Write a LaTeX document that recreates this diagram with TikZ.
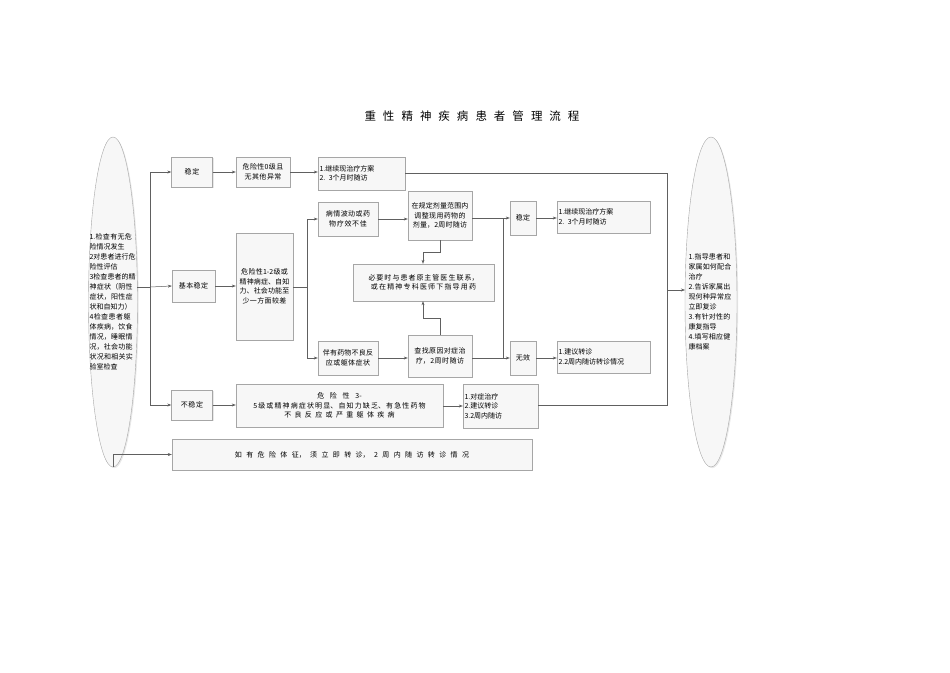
\documentclass[tikz,border=0pt]{standalone}
\usepackage{fontspec}
\setmainfont{Noto Sans CJK SC}
\XeTeXlinebreaklocale "zh"
\XeTeXlinebreakskip=0pt plus 1pt
\usetikzlibrary{shadows,arrows.meta}
\begin{document}
\begin{tikzpicture}[x=1pt,y=-1pt,
  bx/.style={draw=gray!70,fill=gray!6,drop shadow={shadow xshift=1.2pt,shadow yshift=-1.2pt,fill=gray!35},inner sep=1pt,font=\fontsize{7}{9.5}\selectfont,align=center},
  ln/.style={draw=gray!75!black,line width=0.5pt},
  ar/.style={ln,-{Stealth[length=4pt,width=3pt]}}]
\useasboundingbox (0,0) rectangle (950,672);
\node[font=\fontsize{11.5}{13}\selectfont] (title) at (472,116) {重\hspace{7pt}性\hspace{7pt}精\hspace{7pt}神\hspace{7pt}疾\hspace{7pt}病\hspace{7pt}患\hspace{7pt}者\hspace{7pt}管\hspace{7pt}理\hspace{7pt}流\hspace{7pt}程};
\newcommand{\bxat}[6]{\node[bx,minimum width=#4pt,minimum height=#5pt,text width=#4pt-3pt] (#1) at (#2,#3) {#6};}
% ellipses
\draw[draw=gray!70,fill=gray!6,drop shadow={shadow xshift=1.2pt,shadow yshift=-1.2pt,fill=gray!35}] (113,302) ellipse (24.5 and 165);
\node[font=\fontsize{7}{10}\selectfont,text width=47pt,align=left,inner sep=0pt] (L) at (113,302) {1.检查有无危险情况发生\\2对患者进行危险性评估\\3检查患者的精神症状（阴性症状，阳性症状和自知力）\\4检查患者躯体疾病，饮食情况，睡眠情况，社会功能状况和相关实验室检查};
\draw[draw=gray!70,fill=gray!6,drop shadow={shadow xshift=1.2pt,shadow yshift=-1.2pt,fill=gray!35}] (711,302) ellipse (26 and 165);
\node[font=\fontsize{7}{10}\selectfont,text width=45pt,align=left,inner sep=0pt] (R) at (711,302) {1.指导患者和家属如何配合治疗\\2.告诉家属出现何种异常应立即复诊\\3.有针对性的康复指导\\4.填写相应健康档案};
\coordinate (Lr) at (137,287);
\coordinate (Rl) at (685,290);
% boxes
\bxat{s1}{192}{172}{41}{30}{稳定}
\bxat{d0}{263}{172}{54}{30}{危险性0级且无其他异常}
\node[bx,minimum width=87pt,minimum height=33pt,text width=84pt,align=left] (c1) at (361.5,173.5) {1.继续现治疗方案\\2. 3个月时随访};
\bxat{bq}{348}{219}{60}{34}{病情波动或药物疗效不佳}
\bxat{tz}{440}{215.5}{64}{49}{在规定剂量范围内调整现用药物的剂量，2周时随访}
\bxat{s2}{523}{218}{26}{34}{稳定}
\node[bx,minimum width=93pt,minimum height=32pt,text width=90pt,align=left] (c2) at (603.5,217) {1.继续现治疗方案\\2. 3个月时随访};
\bxat{jb}{193.5}{286}{43}{32}{基本稳定}
\bxat{d12}{264.5}{286.5}{57}{107}{危险性1-2级或精神病症、自知力、社会功能至少一方面较差}
\bxat{by}{423.5}{282.5}{141}{37}{必要时与患者原主管医生联系，\\或在精神专科医师下指导用药}
\bxat{bl}{348}{358}{60}{34}{伴有药物不良反应或躯体症状}
\bxat{cz}{440}{356}{64}{42}{查找原因对症治疗，2周时随访}
\bxat{wx}{523}{358}{26}{34}{无效}
\node[bx,minimum width=93pt,minimum height=32pt,text width=90pt,align=left] (c3) at (603.5,357) {1.建议转诊\\2.2周内随访转诊情况};
\bxat{bw}{192}{405}{41}{30}{不稳定}
\bxat{d35}{339.5}{405.5}{207}{43}{危险性3-\\5级或精神病症状明显、自知力缺乏、有急性药物\\不良反应或严重躯体疾病}
\node[bx,minimum width=75pt,minimum height=44pt,text width=72pt,align=left] (c4) at (500.5,406) {1.对症治疗\\2.建议转诊\\3.2周内随访};
\bxat{wx2}{352}{454.5}{360}{31}{如有危险体征，须立即转诊，2周内随访转诊情况};
% connectors
\coordinate (v1) at (150,287);
\draw[ln] (Lr) -- (v1);
\draw[ar] (v1) |- (s1.west);
\draw[ar] (v1) -- (jb.west);
\draw[ar] (v1) |- (bw.west);
\draw[ar] (113,467) |- (wx2.west);
\draw[ar] (s1) -- (d0);
\draw[ar] (d0) -- (c1.west|-d0);
\draw[ar] (jb) -- (d12.west|-jb);
\draw[ar] (bw) -- (d35.west|-bw);
\draw[ar] (d35.east|-c4) -- (c4.west);
\coordinate (v2) at (307,287);
\draw[ln] (d12.east|-v2) -- (v2);
\draw[ar] (v2) |- (bq.west);
\draw[ar] (v2) |- (bl.west);
\draw[ar] (bq) -- (tz.west|-bq);
\draw[ar] (bl) -- (cz.west|-bl);
\draw[ar] (tz.east|-s2) -- (s2);
\draw[ar] (cz.east|-wx) -- (wx);
\draw[ln] (503,218) -- (503,358);
\draw[ar] (s2) -- (c2.west|-s2);
\draw[ar] (wx) -- (c3.west|-wx);
\draw[ar] (440,240) -- (440,252) -- (423,252) -- (by.north-|423,0);
\draw[ar] (440,335) -- (440,318) -- (423,318) -- (by.south-|423,0);
\draw[ln] (c1.east|-0,173) -- (667,173) -- (667,405) -- (c4.east|-0,405);
\draw[ar] (667,290) -- (Rl);
\end{tikzpicture}
\end{document}
